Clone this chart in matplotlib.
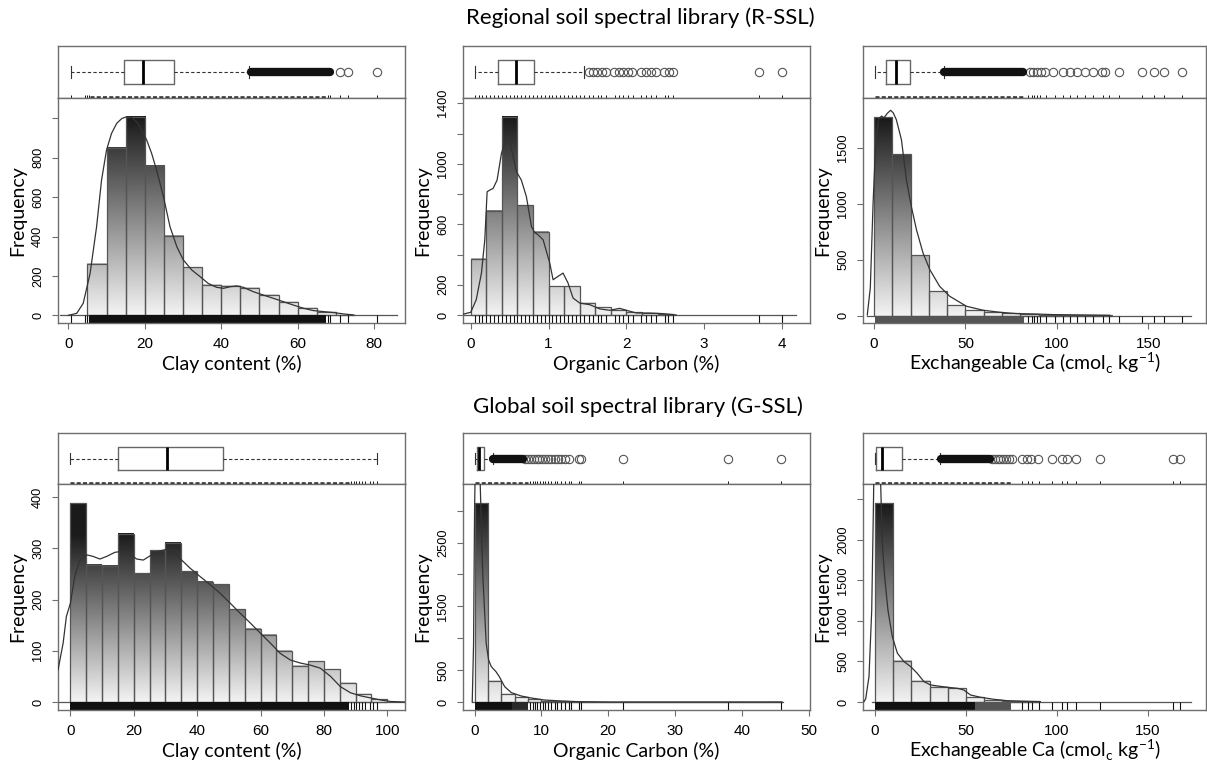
import numpy as np
import matplotlib
matplotlib.use("Agg")
import matplotlib.pyplot as plt
from matplotlib.colors import LinearSegmentedColormap
from matplotlib.patches import Rectangle

plt.rcParams['font.family'] = ['Liberation Sans', 'DejaVu Sans']
plt.rcParams['mathtext.fontset'] = 'custom'
plt.rcParams['mathtext.rm'] = 'Lato'
LABEL_FONT = ['Lato', 'DejaVu Sans']

# ------------------------------------------------------------------ data
# R-SSL clay
clay_r_edges = [5, 10, 15, 20, 25, 30, 35, 40, 45, 50, 55, 60, 65, 70, 75]
clay_r_counts = [262, 848, 1008, 757, 405, 243, 153, 150, 138, 102, 70, 38, 18, 3]
clay_r_box = [0.8, 14.6, 19.6, 27.7, 47.4]          # whislo, q1, med, q3, whishi
clay_r_out_dense = [(47.8, 68.6)]
clay_r_outliers = [71.0, 73.3, 80.8]
clay_r_dens_x = [0, 2.2, 3.9, 5.7, 7.4, 8.7, 10, 11.3, 12.65, 14, 15.3, 16.6, 17.9, 19.2, 20.5,
                 21.8, 23.1, 24.9, 26.6, 28.4, 30.1, 32.3, 34.5, 36.6, 38.8, 40.6, 42.3, 44.1,
                 45.8, 48.4, 51, 53.7, 56.3, 58.9, 61.5, 64.1, 66.7, 69.4, 72, 74.6]
clay_r_dens_y = [0, 10, 61, 213, 450, 687, 839, 923, 974, 999, 1008, 1004, 982, 940, 890,
                 822, 737, 602, 450, 348, 281, 230, 196, 162, 142, 137, 145, 149,
                 142, 120, 103, 86, 69, 52, 36, 24, 19, 14, 7, 2]
clay_r_rug_bands = [(5.7, 67.3, '#111111')]
clay_r_rug_ticks = [0.8, 4.4, 4.9, 5.3, 68.0, 68.6, 71.0, 73.3, 80.8]
clay_r_zero = (-2.2, 86.0)

# R-SSL organic carbon
oc_r_edges = [0, 0.2, 0.4, 0.6, 0.8, 1.0, 1.2, 1.4, 1.6, 1.8, 2.0, 2.2, 2.4, 2.6]
oc_r_counts = [371, 688, 1310, 727, 549, 191, 191, 81, 51, 35, 18, 11, 9]
oc_r_box = [0.06, 0.35, 0.578, 0.81, 1.46]
oc_r_out_dense = []
oc_r_outliers = [1.516, 1.572, 1.627, 1.683, 1.743, 1.846, 1.901, 1.957, 2.017, 2.077,
                 2.188, 2.248, 2.317, 2.377, 2.488, 2.544, 2.6, 3.704, 3.996]
oc_r_dens_x = [-0.14, 0.0, 0.07, 0.137, 0.18, 0.21, 0.244, 0.287, 0.338, 0.394, 0.458, 0.5,
               0.544, 0.587, 0.65, 0.715, 0.78, 0.822, 0.865, 0.93, 1.015, 1.058, 1.12, 1.186,
               1.25, 1.315, 1.4, 1.53, 1.66, 1.786, 1.914, 2.0, 2.13, 2.3, 2.47, 2.64]
oc_r_dens_y = [0, 18, 101, 277, 497, 815, 826, 837, 892, 1068, 1178, 1156,
               1046, 947, 892, 782, 585, 545, 530, 497, 343, 233, 255, 277,
               211, 112, 79, 68, 40, 31, 44, 31, 13, 13, 9, 0]
oc_r_rug_bands = []
oc_r_rug_ticks = [0.05, 0.1, 0.15, 0.2, 0.25, 0.3, 0.35, 0.4, 0.45, 0.5, 0.55, 0.6, 0.65,
                  0.7, 0.75, 0.8, 0.85, 0.9, 0.95, 1.0, 1.05, 1.1, 1.15, 1.2, 1.25, 1.3,
                  1.35, 1.4, 1.45, 1.52, 1.57, 1.63, 1.68, 1.74, 1.85, 1.9, 1.96, 2.02,
                  2.08, 2.19, 2.25, 2.32, 2.38, 2.49, 2.54, 2.6, 3.7, 4.0]
oc_r_zero = (-0.15, 4.18)

# R-SSL exchangeable Ca
ca_r_edges = [0, 10, 20, 30, 40, 50, 60, 70, 80, 90, 100, 110, 120, 130]
ca_r_counts = [1775, 1446, 540, 218, 92, 51, 33, 21, 12, 9, 3, 5, 5]
ca_r_box = [0.5, 6.75, 11.9, 19.9, 38.1]
ca_r_out_dense = [(38.3, 81.5)]
ca_r_outliers = [85.2, 87.0, 89.2, 91.1, 93.4, 97.6, 103.5, 107.1, 110.8, 115.3, 119.9,
                 124.5, 126.3, 134.1, 146.4, 153.1, 158.8, 168.6]
ca_r_dens_x = [-3.65, -2, -0.5, 0.8, 2.5, 4.2, 5.5, 7.3, 9.1, 10.5, 12.2, 15, 17.7, 20.4,
               23.2, 26.8, 30.5, 35.9, 41.4, 50.5, 59.7, 68.8, 78, 87, 98, 114, 129]
ca_r_dens_y = [6, 250, 1000, 1500, 1760, 1785, 1770, 1810, 1837, 1815, 1754, 1575, 1217, 978,
               770, 561, 412, 262, 173, 84, 48, 30, 18, 15, 9, 6, 3]
ca_r_rug_bands = [(0.5, 82, '#555555')]
ca_r_rug_ticks = [84.0, 86.6, 87.7, 89.0, 90.8, 93.8, 98.9, 103.5, 107.1, 111.1, 115.3,
                  119.9, 125.0, 128.7, 134.1, 146.4, 152.9, 158.8, 168.3]
ca_r_zero = (-3.7, 173.4)

# G-SSL clay
clay_g_edges = [0, 5, 10, 15, 20, 25, 30, 35, 40, 45, 50, 55, 60, 65, 70, 75, 80, 85, 90, 95, 100]
clay_g_counts = [388, 268, 266, 328, 251, 296, 311, 255, 235, 230, 181, 143, 131, 100, 71, 80,
                 64, 38, 16, 5]
clay_g_box = [0.0, 15.1, 30.6, 48.1, 96.7]
clay_g_out_dense = []
clay_g_outliers = []
clay_g_dens_x = [-3.9, -2.3, -1.27, 0, 1.37, 2.95, 5.27, 7.2, 9.3, 11.4, 14, 16.1, 18.2, 20.9,
                 23, 25.1, 27.7, 30.4, 32.5, 35.1, 37.8, 40.9, 44.1, 47.3, 50.4, 53.6, 56.8, 60,
                 63.1, 66.2, 69.4, 72.6, 75.7, 78.9, 82.1, 85.2, 88.4, 91.6, 94.7, 97.9, 101, 105.6]
clay_g_dens_y = [63, 115, 167, 193, 245, 277, 287, 284, 279, 284, 292, 294, 291, 279,
                 277, 285, 294, 298, 294, 277, 261, 245, 229, 212, 193, 173, 154, 134,
                 115, 95, 82, 76, 72, 66, 50, 30, 18, 12, 8, 4, 1, 0]
clay_g_rug_bands = [(0.0, 88.0, '#111111')]
clay_g_rug_ticks = [88.6, 89.4, 90.2, 91.0, 92.0, 93.0, 94.6, 95.4, 96.7]
clay_g_zero = (-3.9, 105.6)

# G-SSL organic carbon
oc_g_edges = [0, 2, 4, 6, 8, 10, 12, 14, 16, 18, 20, 22, 24, 26, 28, 30, 32, 34, 36, 38, 40, 42, 44, 46]
oc_g_counts = [3120, 335, 126, 73, 42, 16, 10, 5, 1, 0, 0, 1, 0, 0, 0, 0, 0, 0, 0, 1, 0, 0, 1]
oc_g_box = [0.0, 0.4, 0.65, 1.34, 2.73]
oc_g_out_dense = [(2.8, 7.2)]
oc_g_outliers = [7.6, 8.0, 8.4, 8.9, 9.3, 9.7, 10.1, 10.6, 11.0, 11.5, 12.0, 12.5, 13.0,
                 13.5, 14.1, 15.6, 15.9, 22.2, 38.0, 45.8]
oc_g_dens_x = [-0.35, -0.15, 0.0, 0.15, 0.5, 0.75, 0.85, 1.24, 1.74, 2.1, 2.5, 3.2, 3.7, 4.5,
               5.5, 6.96, 8.45, 10.4, 12.9, 15.4, 20.4, 46.0]
oc_g_dens_y = [0, 900, 3000, 4000, 4500, 4000, 3400, 1970, 920, 660, 555, 476, 398, 241,
               147, 94, 63, 31, 16, 5, 0, 0]
oc_g_rug_bands = [(0.0, 5.6, '#111111'), (5.6, 8.0, '#2a2a2a')]
oc_g_rug_ticks = [8.3, 8.7, 9.0, 9.4, 9.8, 10.2, 10.6, 11.0, 11.5, 12.0, 12.4, 13.0, 13.6,
                  14.2, 14.5, 15.6, 15.9, 22.2, 38.0, 45.8]
oc_g_zero = (-0.4, 46.1)

# G-SSL exchangeable Ca
ca_g_edges = [0, 10, 20, 30, 40, 50, 60, 70, 80, 90]
ca_g_counts = [2453, 510, 263, 189, 169, 58, 25, 12, 8]
ca_g_box = [0.0, 0.4, 3.7, 15.0, 36.0]
ca_g_out_dense = [(36.3, 63.0)]
ca_g_outliers = [64.5, 66.0, 67.5, 69.0, 70.5, 72.0, 73.5, 75.4, 80.9, 83.6, 85.8, 89.6,
                 97.3, 102.8, 105.5, 110.7, 123.8, 164.1, 167.7]
ca_g_dens_x = [-6.0, -5.1, -3.3, -1.8, -0.9, -0.5, 0.5, 2.5, 3.1, 4, 5.3, 7.1, 9.5, 12.3,
               15.9, 19.6, 23.2, 26.9, 30.5, 34.2, 39.7, 45.2, 48.8, 52.5, 58, 65.3, 72.6,
               83.6, 90.9]
ca_g_dens_y = [5, 41, 313, 1136, 2370, 3000, 4000, 3500, 2700, 1959, 1547, 1136, 807, 601,
               498, 436, 354, 251, 210, 198, 181, 169, 148, 86, 58, 33, 16, 8, 4]
ca_g_rug_bands = [(0.0, 55.0, '#111111'), (55.0, 75.0, '#555555')]
ca_g_rug_ticks = [81.0, 84.0, 86.5, 90.0, 97.3, 102.8, 105.5, 110.7, 123.8, 164.1, 167.7]
ca_g_zero = (-1.5, 173.8)

# count at which the bar shading reaches its darkest tone, per panel
shade_top = [1008, 1310, 1775, 330, 3120, 2453]

titles = ["Regional soil spectral library (R-SSL)", "Global soil spectral library (G-SSL)"]
xlabels = ["Clay content (%)", "Organic Carbon (%)",
           "Exchangeable Ca (cmol$_\\mathregular{c}$ kg$^{\\mathregular{\u22121}}$)"]

# ------------------------------------------------------------------ layout
W, H = 1207, 763
fig = plt.figure(figsize=(W / 100, H / 100), dpi=100)

cols = [(58, 405), (463, 810), (863, 1206)]
rows = [(46, 98, 323), (433, 484, 710)]

cmap = LinearSegmentedColormap.from_list('g', ['#f2f2f2', '#1a1a1a'])
EDGE = '#555555'
FRAME = '#6e6e6e'


def px_axes(l, r, t, b):
    return fig.add_axes([l / W, 1 - b / H, (r - l) / W, (b - t) / H])


def panel(ci, ri, edges, counts, box, out_dense, outliers, dx, dy, rug_bands, rug_ticks,
          zero, xlim, ylim, xticks, yticks, ylabels, xlabel, vmax):
    l, r = cols[ci]
    t, m, b = rows[ri]
    axb = px_axes(l, r, t, m)
    axh = px_axes(l, r, m, b)
    for ax in (axb, axh):
        for s in ax.spines.values():
            s.set_color(FRAME)
            s.set_linewidth(1.0)

    # ---- boxplot
    stats = [dict(whislo=box[0], q1=box[1], med=box[2], q3=box[3], whishi=box[4], fliers=outliers)]
    axb.bxp(stats, positions=[0.5], widths=0.46, orientation='horizontal', capwidths=0.22,
            boxprops=dict(color='#666666', lw=1.0),
            medianprops=dict(color='black', lw=2.0),
            whiskerprops=dict(color='#333333', lw=0.8, ls=(0, (3, 2))),
            capprops=dict(color='#333333', lw=0.8),
            flierprops=dict(marker='o', markersize=6, markerfacecolor='none',
                            markeredgecolor='#555555', markeredgewidth=0.8))
    axb.set_xlim(*xlim)
    axb.set_ylim(0, 1)
    axb.set_xticks([])
    axb.set_yticks([])
    for a, c in out_dense:
        axb.plot([a, c], [0.5, 0.5], color='#111111', lw=6.0, solid_capstyle='round', zorder=3)
    for a, c, col in rug_bands:
        axb.plot([a, c], [0.025, 0.025], color='#222222', lw=1.8, ls=(0, (1.6, 0.9)))
    axb.vlines(rug_ticks, 0, 0.05, color='#111111', lw=0.7)

    # ---- histogram with gradient bars
    for x0, x1, h in zip(edges[:-1], edges[1:], counts):
        if h <= 0:
            continue
        grad = np.linspace(0, h / vmax, 64).reshape(-1, 1)
        axh.imshow(grad, extent=(x0, x1, 0, h), origin='lower', cmap=cmap, vmin=0, vmax=1,
                   aspect='auto', interpolation='bilinear', zorder=1)
    axh.bar(edges[:-1], counts, width=np.diff(edges), align='edge', fill=False,
            edgecolor=EDGE, lw=0.9, zorder=2)
    axh.plot(list(zero), [0, 0], color='#555555', lw=0.9, zorder=2)
    axh.plot(dx, dy, color='#333333', lw=0.9, zorder=3)
    for a, c, col in rug_bands:
        axh.add_patch(Rectangle((a, ylim[0]), c - a, -ylim[0], facecolor=col, edgecolor='none', zorder=2))
    axh.vlines(rug_ticks, ylim[0], 0, color='#111111', lw=0.8, zorder=2)
    axh.set_xlim(*xlim)
    axh.set_ylim(*ylim)
    axh.set_xticks(xticks)
    axh.set_xticklabels([str(v) for v in xticks])
    axh.set_yticks(yticks)
    axh.set_yticklabels(ylabels, rotation=90, va='center')
    axh.tick_params(direction='out', length=4, width=0.8, color=FRAME)
    axh.tick_params(axis='x', labelsize=11, pad=6)
    axh.tick_params(axis='y', labelsize=9.2, pad=6)
    axh.set_xlabel(xlabel, family=LABEL_FONT, fontsize=14, labelpad=0 if '$' in xlabel else 3)
    axh.set_ylabel('Frequency', family=LABEL_FONT, fontsize=14, labelpad=4)


panel(0, 0, clay_r_edges, clay_r_counts, clay_r_box, clay_r_out_dense, clay_r_outliers,
      clay_r_dens_x, clay_r_dens_y, clay_r_rug_bands, clay_r_rug_ticks, clay_r_zero,
      (-2.7, 88.1), (-39, 1103), [0, 20, 40, 60, 80], [0, 200, 400, 600, 800, 1000],
      ['0', '200', '400', '600', '800', ''], xlabels[0], shade_top[0])
panel(1, 0, oc_r_edges, oc_r_counts, oc_r_box, oc_r_out_dense, oc_r_outliers,
      oc_r_dens_x, oc_r_dens_y, oc_r_rug_bands, oc_r_rug_ticks, oc_r_zero,
      (-0.1, 4.36), (-53, 1435), [0, 1, 2, 3, 4], [0, 200, 400, 600, 800, 1000, 1200, 1400],
      ['0', '200', '', '600', '', '1000', '', '1400'], xlabels[1], shade_top[1])
panel(2, 0, ca_r_edges, ca_r_counts, ca_r_box, ca_r_out_dense, ca_r_outliers,
      ca_r_dens_x, ca_r_dens_y, ca_r_rug_bands, ca_r_rug_ticks, ca_r_zero,
      (-6.0, 181.5), (-66, 1947), [0, 50, 100, 150], [0, 500, 1000, 1500],
      ['0', '500', '1000', '1500'], xlabels[2], shade_top[2])
panel(0, 1, clay_g_edges, clay_g_counts, clay_g_box, clay_g_out_dense, clay_g_outliers,
      clay_g_dens_x, clay_g_dens_y, clay_g_rug_bands, clay_g_rug_ticks, clay_g_zero,
      (-3.92, 105.6), (-15.6, 425.4), [0, 20, 40, 60, 80, 100], [0, 100, 200, 300, 400],
      ['0', '100', '200', '300', '400'], xlabels[0], shade_top[3])
panel(1, 1, oc_g_edges, oc_g_counts, oc_g_box, oc_g_out_dense, oc_g_outliers,
      oc_g_dens_x, oc_g_dens_y, oc_g_rug_bands, oc_g_rug_ticks, oc_g_zero,
      (-1.73, 50.2), (-126, 3419), [0, 10, 20, 30, 40, 50], [0, 500, 1000, 1500, 2000, 2500, 3000],
      ['0', '500', '', '1500', '', '2500', ''], xlabels[1], shade_top[4])
panel(2, 1, ca_g_edges, ca_g_counts, ca_g_box, ca_g_out_dense, ca_g_outliers,
      ca_g_dens_x, ca_g_dens_y, ca_g_rug_bands, ca_g_rug_ticks, ca_g_zero,
      (-6.6, 182.0), (-99, 2687), [0, 50, 100, 150], [0, 500, 1000, 1500, 2000, 2500],
      ['0', '500', '1000', '1500', '2000', ''], xlabels[2], shade_top[5])

fig.text(640 / W, 1 - 24 / H, titles[0], ha='center', va='baseline', family=LABEL_FONT, fontsize=16)
fig.text(638 / W, 1 - 413 / H, titles[1], ha='center', va='baseline', family=LABEL_FONT, fontsize=16)

fig.savefig('out.png', dpi=100, facecolor='white')
